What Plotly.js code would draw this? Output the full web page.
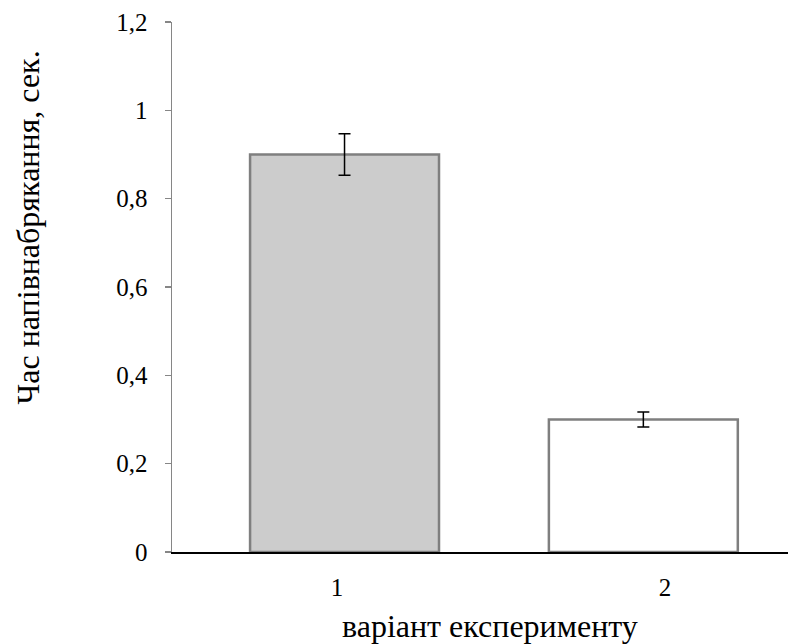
<!DOCTYPE html>
<html>
<head>
<meta charset="utf-8">
<script src="https://cdn.plot.ly/plotly-3.0.1.min.js"></script>
<style>html,body{margin:0;padding:0;background:#fff;}#chart{width:788px;height:644px;}</style>
</head>
<body>
<div id="chart"></div>
<script>
const categories = ['1', '2'];
const values = [0.9, 0.3];
const errors = [0.047, 0.017];
const yTitle = 'Час напівнабрякання, сек.';
const xTitle = 'варіант експерименту';

const FONT = "'Liberation Serif', 'Times New Roman', serif";

const trace = {
  type: 'bar',
  x: categories,
  y: values,
  width: [0.576, 0.576],
  offset: [-0.265, -0.354],
  marker: {
    color: ['#cccccc', '#ffffff'],
    line: {color: '#7f7f7f', width: 2.5}
  },
  error_y: {
    type: 'data',
    array: errors,
    visible: true,
    color: '#000000',
    thickness: 1.5,
    width: 6
  },
  hoverinfo: 'none'
};

const layout = {
  width: 788,
  height: 644,
  margin: {l: 172, r: 0, t: 22, b: 92},
  paper_bgcolor: '#ffffff',
  plot_bgcolor: '#ffffff',
  separators: ',.',
  showlegend: false,
  font: {family: FONT, color: '#000000', size: 25},
  xaxis: {
    type: 'category',
    range: [-0.503, 1.375],
    showline: true,
    linecolor: '#000000',
    linewidth: 2,
    ticks: '',
    showgrid: false,
    zeroline: false,
    tickfont: {family: FONT, size: 25, color: '#000000'},
    ticklabelstandoff: 12
  },
  yaxis: {
    range: [0, 1.2],
    dtick: 0.2,
    tick0: 0,
    showline: true,
    linecolor: '#868686',
    linewidth: 1.5,
    ticks: 'outside',
    ticklen: 6,
    tickwidth: 1.5,
    tickcolor: '#868686',
    showgrid: false,
    zeroline: false,
    tickfont: {family: FONT, size: 25, color: '#000000'},
    ticklabelstandoff: 12
  },
  annotations: [{
    text: yTitle,
    textangle: -90,
    xref: 'paper', yref: 'paper',
    x: -0.234, y: 0.612,
    xanchor: 'center', yanchor: 'middle',
    showarrow: false,
    font: {family: FONT, size: 32, color: '#000000'}
  }, {
    text: xTitle,
    xref: 'paper', yref: 'paper',
    x: 0.516, y: -0.14,
    xanchor: 'center', yanchor: 'middle',
    showarrow: false,
    font: {family: FONT, size: 32, color: '#000000'}
  }]
};

Plotly.newPlot('chart', [trace], layout, {displayModeBar: false, staticPlot: true});
</script>
</body>
</html>
